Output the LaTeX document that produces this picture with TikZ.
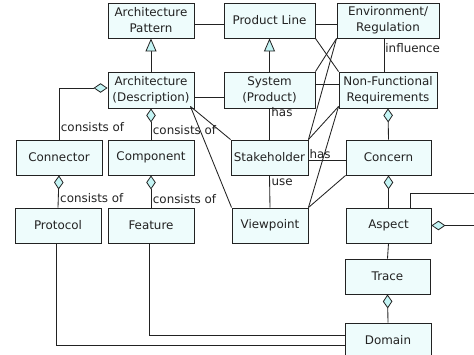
\documentclass[tikz,border=0pt]{standalone}
\usepackage{fontspec}
\setmainfont{DejaVu Sans}
\usetikzlibrary{arrows.meta,calc}
\definecolor{boxfill}{HTML}{EEFCFC}
\definecolor{diafill}{HTML}{C4F4F4}
\definecolor{ink}{HTML}{222222}
\tikzset{
  box/.style={draw=ink, fill=boxfill, line width=0.9pt, inner sep=0pt, align=center,
    text=ink, font=\fontsize{11.9}{16}\selectfont},
  lbl/.style={text=ink, inner sep=0pt, font=\fontsize{11.9}{16}\selectfont},
  conn/.style={draw=ink, line width=0.85pt},
  agg/.style={conn, {Diamond[length=14pt,width=9.5pt,fill=diafill,line width=0.8pt]}-},
  gen/.style={conn, -{Triangle[length=13pt,width=11pt,fill=diafill,line width=0.8pt]}},
}
\begin{document}
\begin{tikzpicture}[x=1pt,y=-1pt]
\useasboundingbox (0,0) rectangle (474,354);
\clip (0,0) rectangle (474,354);
% boxes
\node[box, minimum width=86pt, minimum height=35pt] (AP) at (151,20.5) {Architecture\\Pattern};
\node[box, minimum width=91pt, minimum height=35pt] (PL) at (269.5,20.5) {Product Line};
\node[box, minimum width=102pt, minimum height=35pt] (ENV) at (388,20.5) {Environment/\\Regulation};
\node[box, minimum width=86pt, minimum height=36pt] (AD) at (151,90) {Architecture\\(Description)};
\node[box, minimum width=91pt, minimum height=36pt] (SYS) at (269.5,90) {System\\(Product)};
\node[box, minimum width=98pt, minimum height=36pt] (NFR) at (388,90) {Non-Functional\\Requirements};
\node[box, minimum width=86pt, minimum height=35pt] (CON) at (59,157.5) {Connector};
\node[box, minimum width=86pt, minimum height=35pt] (COMP) at (151,157.5) {Component};
\node[box, minimum width=77pt, minimum height=35pt] (STK) at (269.5,157.5) {Stakeholder};
\node[box, minimum width=85pt, minimum height=35pt] (CNC) at (388.5,157.5) {Concern};
\node[box, minimum width=86pt, minimum height=35pt] (PRO) at (58,225.5) {Protocol};
\node[box, minimum width=86pt, minimum height=35pt] (FEA) at (151,225.5) {Feature};
\node[box, minimum width=76pt, minimum height=35pt] (VP) at (270,225.5) {Viewpoint};
\node[box, minimum width=85pt, minimum height=35pt] (ASP) at (388.5,225.5) {Aspect};
\node[box, minimum width=85pt, minimum height=35pt] (TR) at (387.5,276.5) {Trace};
\node[box, minimum width=86pt, minimum height=35pt] (DOM) at (388,340.5) {Domain};
% free ends at the right edge
\coordinate (R1) at (474,193);
\coordinate (R2) at (474,225.5);
% generalizations
\draw[gen] (AD.north) -- (AP.south);
\draw[gen] (SYS.north) -- (PL.south);
% plain associations
\draw[conn] ([yshift=-3.5pt]AP.east) -- ([yshift=-3.5pt]PL.west);
\draw[conn] ([yshift=-3.5pt]PL.east) -- ([yshift=-3.5pt]ENV.west);
\draw[conn] ([yshift=-7pt]AD.east) -- ([yshift=-7pt]SYS.west);
\draw[conn] ([yshift=6pt]SYS.east) -- ([yshift=6pt]NFR.west);
\draw[conn] (PL.south east) -- (NFR.north west);
\draw[conn] (ENV.south west) -- (SYS.north east);
\draw[conn] (ENV.south west) -- (STK.north east);
\draw[conn] ([xshift=-4pt]ENV.south) -- node[lbl, anchor=west, xshift=1pt, pos=0.3] {influence} ([xshift=-4pt]NFR.north);
\draw[conn] ([yshift=2pt]NFR.south west) -- (STK.north east);
\draw[conn] ([yshift=2pt]NFR.south west) -- (VP.north east);
\draw[conn] (CNC.south west) -- (VP.north east);
\draw[conn] ([xshift=-4pt,yshift=2pt]AD.south east) -- (STK.north west);
\draw[conn] ([xshift=-4pt,yshift=2pt]AD.south east) -- (VP.north west);
\draw[conn] (SYS.south) -- node[lbl, anchor=west, pos=0.12, xshift=1.5pt] {has} (STK.north);
\draw[conn] (STK.south) -- node[lbl, anchor=west, pos=0.22, xshift=1.5pt] {use} (VP.north);
\draw[conn] ([yshift=-2.5pt]STK.east) -- node[lbl, anchor=south west, pos=0.02, yshift=0.5pt] {has} ([yshift=-2.5pt]CNC.west);
\draw[conn] ([xshift=-2pt]PRO.south) |- ([yshift=-4.5pt]DOM.west);
\draw[conn] ([xshift=-2pt]FEA.south) |- ([yshift=5.5pt]DOM.west);
\draw[conn] (ASP.south) -- (TR.north);
\draw[conn] ([xshift=21.5pt]ASP.north) |- (R1);
% aggregations
\draw[agg] ([yshift=2pt]AD.west) -| node[lbl, anchor=west, pos=0.88, xshift=1.5pt] {consists of} (CON.north);
\draw[agg] (AD.south) -- node[lbl, anchor=west, pos=0.7, xshift=1.5pt] {consists of} (COMP.north);
\draw[agg] (CON.south) -- node[lbl, anchor=west, pos=0.7, xshift=1.5pt] {consists of} (PRO.north);
\draw[agg] (COMP.south) -- node[lbl, anchor=west, pos=0.72, xshift=1.5pt] {consists of} (FEA.north);
\draw[agg] (NFR.south) -- (CNC.north);
\draw[agg] (CNC.south) -- (ASP.north);
\draw[agg] (TR.south) -- (DOM.north);
\draw[agg] (ASP.east) -- (R2);
\end{tikzpicture}
\end{document}
